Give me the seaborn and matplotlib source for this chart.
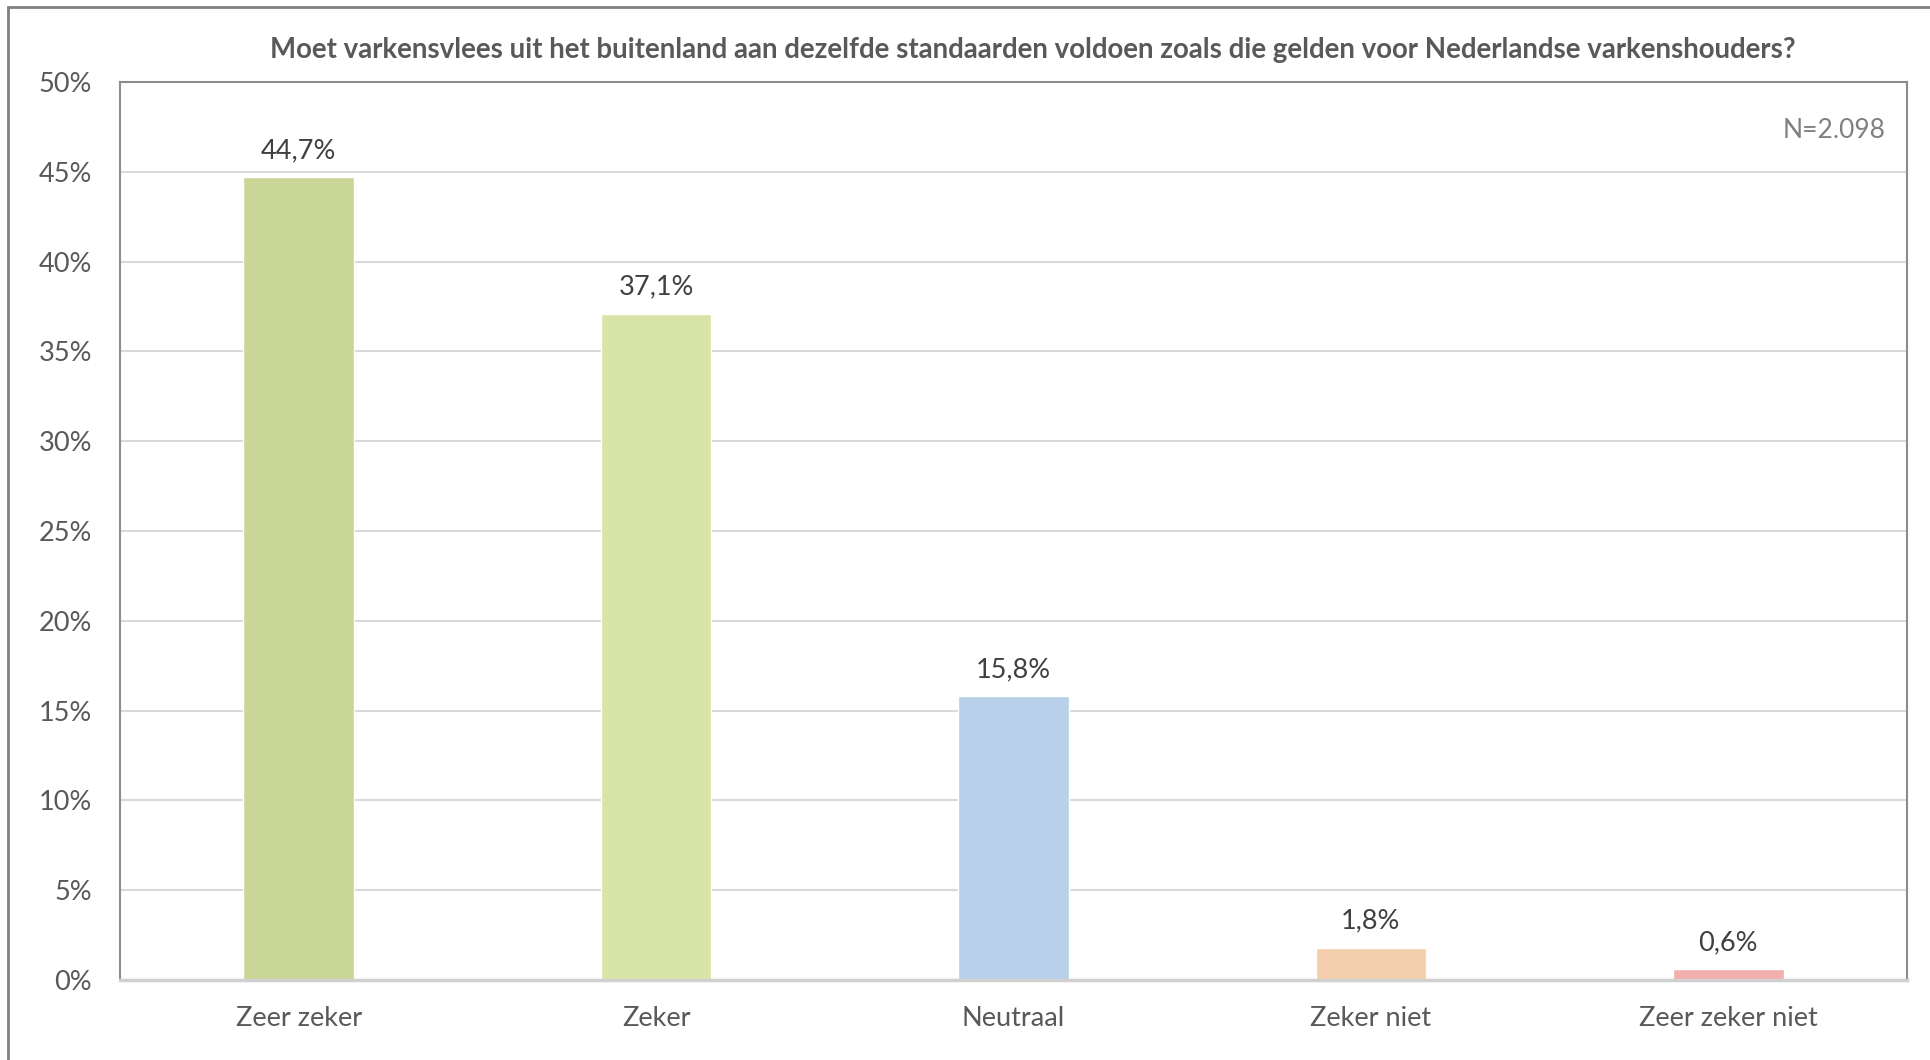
import matplotlib
matplotlib.use('Agg')
import matplotlib.pyplot as plt
import seaborn as sns
import pandas as pd
from matplotlib.patches import Rectangle
from matplotlib.ticker import FuncFormatter

categorieen = ['Zeer zeker', 'Zeker', 'Neutraal', 'Zeker niet', 'Zeer zeker niet']
percentages = [44.7, 37.1, 15.8, 1.8, 0.6]
kleuren = ['#C9D696', '#D9E4A9', '#B8D0E9', '#F4CFAE', '#F2AFAE']
y_ticks = [0, 5, 10, 15, 20, 25, 30, 35, 40, 45, 50]
titel = 'Moet varkensvlees uit het buitenland aan dezelfde standaarden voldoen zoals die gelden voor Nederlandse varkenshouders?'
n_label = 'N=2.098'

sns.set_theme(style='white')
plt.rcParams['font.family'] = ['Lato', 'DejaVu Sans']

df = pd.DataFrame({'categorie': categorieen, 'pct': percentages})

W, H = 1931, 1060
fig = plt.figure(figsize=(W / 100, H / 100), dpi=100)
ax = fig.add_axes([120 / W, 1 - 980 / H, (1907 - 120) / W, (980 - 82) / H])

sns.barplot(data=df, x='categorie', y='pct', hue='categorie', palette=kleuren,
            legend=False, width=0.31, ax=ax, saturation=1)

ax.set_ylim(0, 50)
ax.set_xlim(-0.5, len(categorieen) - 0.5)
ax.set_yticks(y_ticks)
ax.yaxis.set_major_formatter(FuncFormatter(lambda v, p: f'{v:.0f}%'))
ax.yaxis.grid(True, color='#d9d9d9', lw=1.5)
ax.set_axisbelow(True)
ax.set_xlabel('')
ax.set_ylabel('')
ax.tick_params(axis='y', labelsize=19.5, colors='#595959', length=0, pad=20)
ax.tick_params(axis='x', labelsize=19.5, colors='#595959', length=0, pad=19)

for side in ['left', 'top', 'right']:
    ax.spines[side].set_color('#8c8c8c')
    ax.spines[side].set_linewidth(1.5)
ax.spines['bottom'].set_color('#d0d0d0')
ax.spines['bottom'].set_linewidth(2.5)

for i, v in enumerate(percentages):
    ax.annotate(f'{v:.1f}'.replace('.', ',') + '%', xy=(i, v), xytext=(0, 10),
                textcoords='offset points', ha='center', va='bottom',
                fontsize=19.5, color='#404040')

ax.text(0.988, 0.946, n_label, transform=ax.transAxes, ha='right', va='center',
        fontsize=19, color='#808080')

fig.text(1033 / W, 1 - 50 / H, titel, ha='center', va='center',
         fontsize=19.9, fontweight='bold', color='#595959')

# kaderrand van de grafiek (loopt door tot buiten rechts/onder)
fig.patches.append(Rectangle((8 / W, -0.05), 1.2, 1 - 7 / H + 0.05,
                             transform=fig.transFigure, fill=False,
                             edgecolor='#808080', lw=2))

fig.savefig('out.png', dpi=100)
